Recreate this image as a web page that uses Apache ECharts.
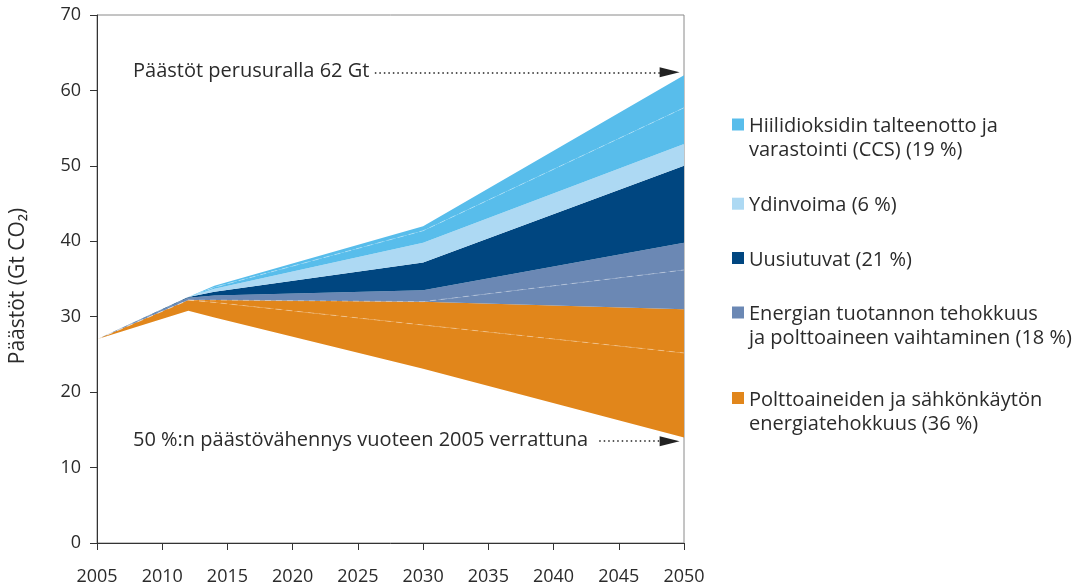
<!DOCTYPE html>
<html>
<head>
<meta charset="utf-8">
<script src="https://cdn.jsdelivr.net/npm/echarts@6/dist/echarts.min.js"></script>
<style>
  html, body { margin: 0; padding: 0; background: #fff; }
  #chart { width: 1086px; height: 587px; }
</style>
</head>
<body>
<div id="chart"></div>
<script>
// vuodet joissa rajaviivat taittuvat
const years = [2005, 2012, 2014, 2030, 2050]

// rajaviivojen arvot (Gt CO2), alhaalta ylös
const lowerPath = [27, 30.8, 29.9, 23.1, 14.0]   // 50 %:n vähennyspolku
const orangeMid = [27, 32.2, 31.9, 28.9, 25.2]
const orangeTop = [27, 32.2, 32.2, 32.0, 31.0]
const slateMid = [27, 32.2, 32.2, 32.0, 36.2]
const slateTop = [27, 32.5, 32.8, 33.5, 39.8]
const navyTop = [27, 32.6, 33.3, 37.2, 50.0]
const lightTop = [27, 32.6, 33.7, 39.8, 52.9]
const ccsMid = [27, 32.6, 33.9, 41.4, 57.7]
const baseline = [27, 32.6, 34.1, 42.0, 62.0]    // perusura

const legendNames = [
  'Hiilidioksidin talteenotto ja\nvarastointi (CCS) (19 %)',
  'Ydinvoima (6 %)',
  'Uusiutuvat (21 %)',
  'Energian tuotannon tehokkuus\nja polttoaineen vaihtaminen (18 %)',
  'Polttoaineiden ja sähkönkäytön\nenergiatehokkuus (36 %)'
]
const colors = ['#58bdeb', '#add9f3', '#004680', '#6b88b4', '#e1861b']

const yTicks = { min: 0, max: 70, step: 10 }
const xTicks = { min: 2005, max: 2050, step: 5 }

const font = 'Open Sans'
const textColor = '#2b2b2b'

// kerrokset pinoon alhaalta ylös: [ylaraja, alaraja, selitteen indeksi, katkoviiva]
const layers = [
  [orangeMid, lowerPath, 4, true],
  [orangeTop, orangeMid, 4, false],
  [slateMid, orangeTop, 3, true],
  [slateTop, slateMid, 3, false],
  [navyTop, slateTop, 2, false],
  [lightTop, navyTop, 1, false],
  [ccsMid, lightTop, 0, true],
  [baseline, ccsMid, 0, false]
]

// arvo ensin, vuosi toisena -> pinotaan y-arvoa eikä vuotta
function toPairs(arr) {
  return years.map((y, i) => [arr[i], y])
}

const series = [{
  name: 'base',
  type: 'line',
  stack: 'all',
  silent: true,
  showSymbol: false,
  encode: { x: 1, y: 0 },
  data: toPairs(lowerPath),
  lineStyle: { width: 0 },
  areaStyle: { opacity: 0 }
}]

layers.forEach(([upper, lower, idx, dashed]) => {
  const thick = upper.map((v, i) => +(v - lower[i]).toFixed(2))
  series.push({
    name: legendNames[idx],
    type: 'line',
    stack: 'all',
    silent: true,
    showSymbol: false,
    encode: { x: 1, y: 0 },
    data: toPairs(thick),
    itemStyle: { color: colors[idx] },
    lineStyle: dashed
      ? { width: 1, color: 'rgba(255,255,255,0.32)', type: [6, 5] }
      : { width: 0 },
    areaStyle: { color: colors[idx], opacity: 1 }
  })
})

// nuolet: perusura 62 Gt ja 50 % vähennys
const arrowStyle = { color: '#222', width: 1.5, type: [1.5, 3] }
series.push({
  name: 'nuolet',
  type: 'line',
  data: [],
  silent: true,
  markLine: {
    silent: true,
    symbol: ['none', 'triangle'],
    symbolSize: [10, 20],
    label: { show: false },
    lineStyle: arrowStyle,
    data: [
      [{ coord: [2026.3, 62.4] }, { coord: [2048.9, 62.4] }],
      [{ coord: [2043.5, 13.5] }, { coord: [2048.9, 13.5] }]
    ]
  }
})

// selite piirretään käsin, jotta kuvake on ensimmäisen rivin kohdalla
const legendCenters = [124.5, 203.7, 258, 312.5, 398]
const legendGraphic = legendNames.map((name, i) => ({
  type: 'group',
  left: 732,
  top: legendCenters[i] - 10,
  children: [
    { type: 'rect', shape: { x: 0, y: 4, width: 12, height: 12 }, style: { fill: colors[i] } },
    {
      type: 'text', x: 17, y: 0,
      style: { text: name, fontFamily: font, fontSize: 20, lineHeight: 24, fill: textColor }
    }
  ]
}))

const chart = echarts.init(document.getElementById('chart'))
chart.setOption({
  animation: false,
  textStyle: { fontFamily: font },
  grid: {
    left: 97,
    right: 402,
    top: 15,
    bottom: 44,
    show: true,
    borderColor: '#8a8a8a',
    borderWidth: 1
  },
  xAxis: {
    type: 'value',
    min: xTicks.min,
    max: xTicks.max,
    interval: xTicks.step,
    z: 5,
    axisLine: { show: true, lineStyle: { color: '#333', width: 1 } },
    axisTick: { show: true, length: 7, lineStyle: { color: '#333' } },
    axisLabel: { color: textColor, fontSize: 18, margin: 25, formatter: v => String(v) },
    splitLine: { show: false }
  },
  yAxis: {
    type: 'value',
    min: yTicks.min,
    max: yTicks.max,
    interval: yTicks.step,
    z: 5,
    name: 'Päästöt (Gt CO₂)',
    nameLocation: 'middle',
    nameRotate: 90,
    nameGap: 68,
    nameTextStyle: { color: textColor, fontSize: 21, padding: [0, 14, 0, 0] },
    axisLine: { show: true, lineStyle: { color: '#333', width: 1 } },
    axisTick: { show: true, length: 7, lineStyle: { color: '#333' } },
    axisLabel: { color: textColor, fontSize: 18, margin: 16 },
    splitLine: { show: false }
  },
  graphic: [
    {
      type: 'text', left: 133, top: 61,
      style: { text: 'Päästöt perusuralla 62 Gt', fontFamily: font, fontSize: 20, fill: textColor }
    },
    {
      type: 'text', left: 133, top: 430,
      style: { text: '50 %:n päästövähennys vuoteen 2005 verrattuna', fontFamily: font, fontSize: 20, fill: textColor }
    }
  ].concat(legendGraphic),
  series: series
})
</script>
</body>
</html>
